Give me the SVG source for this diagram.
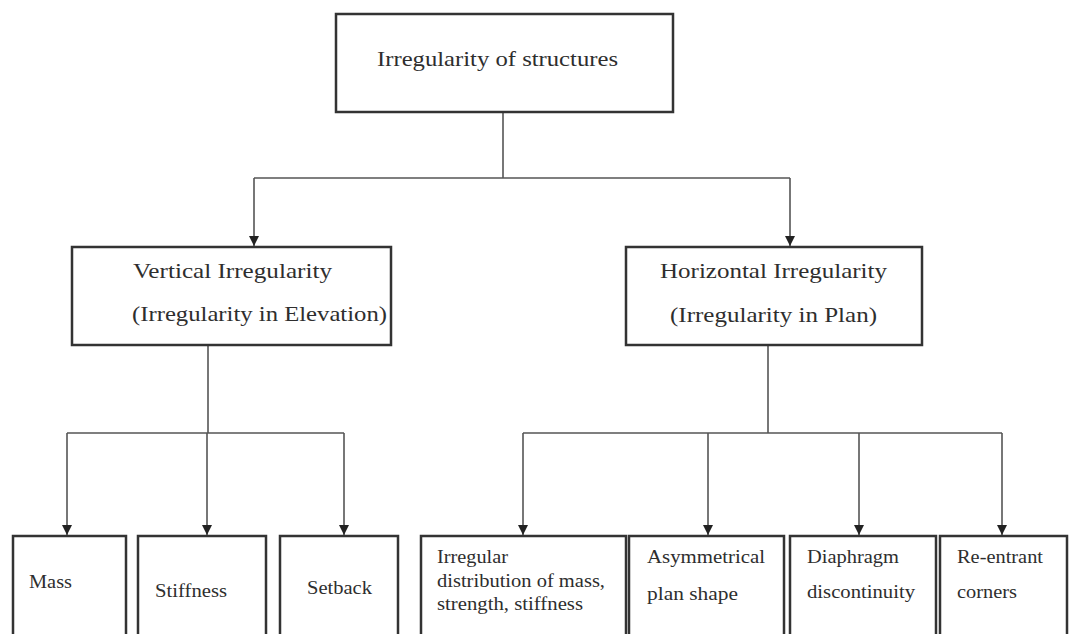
<svg xmlns="http://www.w3.org/2000/svg" width="1070" height="634" viewBox="0 0 1070 634">
<style>
.box{fill:#fff;stroke:#333;stroke-width:2.5}
.t{font-family:'Liberation Serif','DejaVu Serif',serif;fill:#2e2e2e}
.t1{font-size:22px}
.t2{font-size:21px}
.t3{font-size:18px}
.c{fill:none;stroke:#555;stroke-width:1.6}
</style>
<defs>
<marker id="down" markerUnits="userSpaceOnUse" markerWidth="12" markerHeight="12" viewBox="0 0 12 12" refX="6" refY="11" orient="0">
<path d="M1,1 L11,1 L6,11 Z" fill="#222"/>
</marker>
</defs>
<rect width="1070" height="634" fill="#fff"/>
<g id="connectors">
<path class="c" d="M503,112 V178"/>
<path class="c" d="M254,178 H790"/>
<path class="c" d="M254,178 V246" marker-end="url(#down)"/>
<path class="c" d="M790,178 V246" marker-end="url(#down)"/>
<path class="c" d="M208,345 V433"/>
<path class="c" d="M67,433 H344"/>
<path class="c" d="M67,433 V535" marker-end="url(#down)"/>
<path class="c" d="M207,433 V535" marker-end="url(#down)"/>
<path class="c" d="M344,433 V535" marker-end="url(#down)"/>
<path class="c" d="M768,345 V433"/>
<path class="c" d="M523,433 H1002"/>
<path class="c" d="M523,433 V535" marker-end="url(#down)"/>
<path class="c" d="M708,433 V535" marker-end="url(#down)"/>
<path class="c" d="M859,433 V535" marker-end="url(#down)"/>
<path class="c" d="M1002,433 V535" marker-end="url(#down)"/>
</g>
<g id="root">
<rect class="box" x="336" y="14" width="337" height="98"/>
<text class="t t1" x="377" y="66" textLength="241" lengthAdjust="spacingAndGlyphs">Irregularity of structures</text>
</g>
<g id="vertical">
<rect class="box" x="72" y="247" width="319" height="98"/>
<text class="t t2" x="133" y="278" textLength="199" lengthAdjust="spacingAndGlyphs">Vertical Irregularity</text>
<text class="t t2" x="132" y="321" textLength="255" lengthAdjust="spacingAndGlyphs">(Irregularity in Elevation)</text>
</g>
<g id="horizontal">
<rect class="box" x="626" y="247" width="296" height="98"/>
<text class="t t2" x="660" y="278" textLength="227" lengthAdjust="spacingAndGlyphs">Horizontal Irregularity</text>
<text class="t t2" x="670" y="322" textLength="207" lengthAdjust="spacingAndGlyphs">(Irregularity in Plan)</text>
</g>
<g id="mass">
<rect class="box" x="13" y="536" width="113" height="110"/>
<text class="t t3" x="29" y="588" textLength="43" lengthAdjust="spacingAndGlyphs">Mass</text>
</g>
<g id="stiffness">
<rect class="box" x="138" y="536" width="128" height="110"/>
<text class="t t3" x="155" y="597" textLength="72" lengthAdjust="spacingAndGlyphs">Stiffness</text>
</g>
<g id="setback">
<rect class="box" x="280" y="536" width="118" height="110"/>
<text class="t t3" x="307" y="594" textLength="65" lengthAdjust="spacingAndGlyphs">Setback</text>
</g>
<g id="irregular-distribution">
<rect class="box" x="421" y="536" width="205" height="110"/>
<text class="t t3" x="437" y="563" textLength="71" lengthAdjust="spacingAndGlyphs">Irregular</text>
<text class="t t3" x="437" y="587" textLength="168" lengthAdjust="spacingAndGlyphs">distribution of mass,</text>
<text class="t t3" x="437" y="610" textLength="146" lengthAdjust="spacingAndGlyphs">strength, stiffness</text>
</g>
<g id="asymmetrical">
<rect class="box" x="629" y="536" width="155" height="110"/>
<text class="t t3" x="647" y="563" textLength="118" lengthAdjust="spacingAndGlyphs">Asymmetrical</text>
<text class="t t3" x="647" y="600" textLength="91" lengthAdjust="spacingAndGlyphs">plan shape</text>
</g>
<g id="diaphragm">
<rect class="box" x="790" y="536" width="146" height="110"/>
<text class="t t3" x="807" y="563" textLength="92" lengthAdjust="spacingAndGlyphs">Diaphragm</text>
<text class="t t3" x="807" y="598" textLength="108" lengthAdjust="spacingAndGlyphs">discontinuity</text>
</g>
<g id="reentrant">
<rect class="box" x="940" y="536" width="127" height="110"/>
<text class="t t3" x="957" y="563" textLength="86" lengthAdjust="spacingAndGlyphs">Re-entrant</text>
<text class="t t3" x="957" y="598" textLength="60" lengthAdjust="spacingAndGlyphs">corners</text>
</g>
</svg>
